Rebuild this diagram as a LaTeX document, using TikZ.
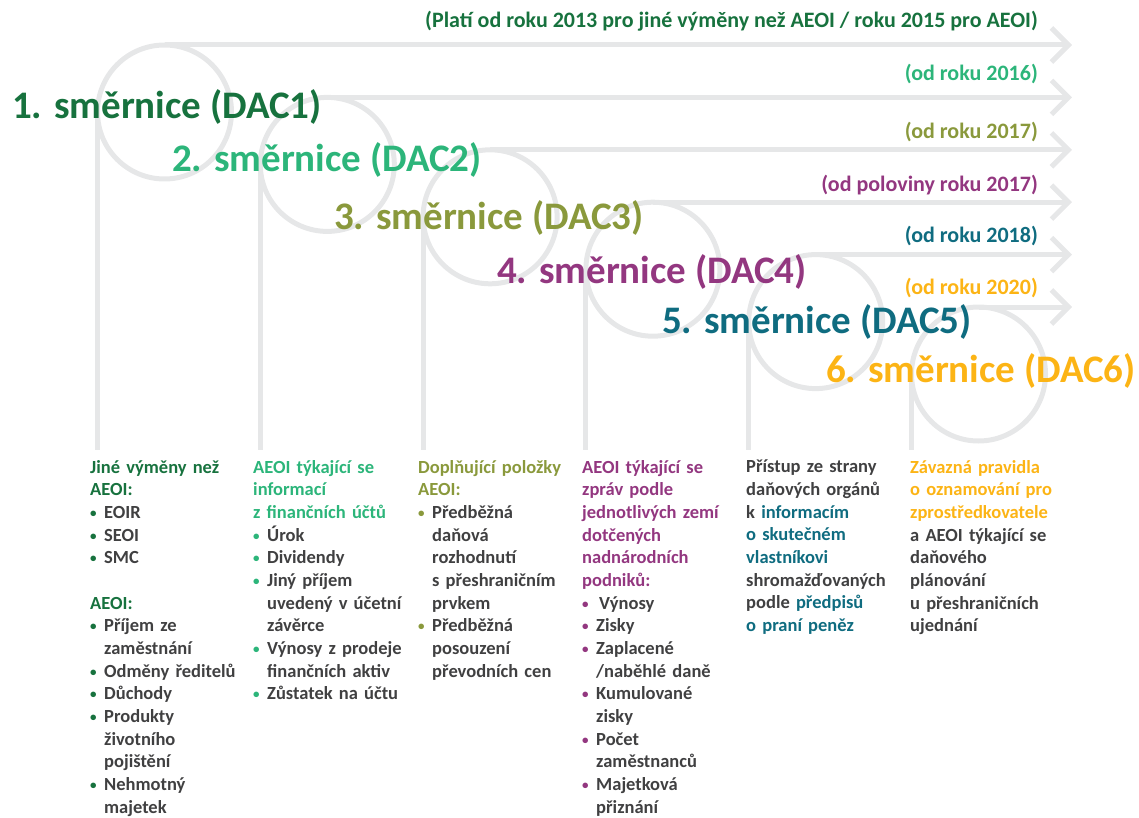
\documentclass[tikz,border=0pt]{standalone}
\usepackage{fontspec}
\setmainfont{Carlito}
\usetikzlibrary{arrows.meta}

\definecolor{dacone}{RGB}{23,114,62}
\definecolor{dactwo}{RGB}{44,181,122}
\definecolor{dacthree}{RGB}{138,153,60}
\definecolor{dacfour}{RGB}{147,55,128}
\definecolor{dacfive}{RGB}{15,108,128}
\definecolor{dacsix}{RGB}{252,180,21}
\definecolor{guidegrey}{RGB}{230,231,232}
\definecolor{bodytext}{RGB}{64,64,65}

\newcommand{\bul}[1]{\makebox[14pt][l]{\textcolor{#1}{\raisebox{1pt}{\fontsize{13}{13}\selectfont\textbullet}}}}
\newcommand{\ind}{\hspace*{14pt}}

\tikzset{
  guide/.style={draw=guidegrey, line width=5pt},
  guidearrow/.style={guide, -{Straight Barb[length=17pt,width=34pt]}},
  dactitle/.style={anchor=west, inner sep=0pt, font=\fontsize{39}{44}\selectfont\bfseries},
  since/.style={anchor=east, inner sep=0pt, font=\fontsize{22}{24}\selectfont\bfseries},
  column/.style={anchor=north west, align=left, text width=170pt, inner sep=0pt,
    text=bodytext, font=\fontsize{18.5}{22.67}\selectfont\bfseries}
}

\begin{document}
\begin{tikzpicture}[x=1pt,y=-1pt]
\useasboundingbox (0,0) rectangle (1139,818);

% grey guides: foot line, circle, arrow
\foreach \i in {1,...,6}{
  \pgfmathsetmacro{\xx}{97.5+162.8*(\i-1)}
  \pgfmathsetmacro{\yy}{45+52.4*(\i-1)}
  \coordinate (foot\i) at (\xx,450);
  \coordinate (side\i) at (\xx,\yy+67);
  \coordinate (hub\i) at (\xx+67,\yy+67);
  \coordinate (top\i) at (\xx+67,\yy);
  \coordinate (tip\i) at (1072,\yy);
  \draw[guide] (foot\i) -- (side\i);
  \draw[guide] (hub\i) circle[radius=67pt];
  \draw[guidearrow] (top\i) -- (tip\i);
}

% titles
\node[dactitle, text=dacone]   (dac1) at (12,107)  {1. směrnice (DAC1)};
\node[dactitle, text=dactwo]   (dac2) at (172,160) {2. směrnice (DAC2)};
\node[dactitle, text=dacthree] (dac3) at (334,218) {3. směrnice (DAC3)};
\node[dactitle, text=dacfour]  (dac4) at (497,272) {4. směrnice (DAC4)};
\node[dactitle, text=dacfive]  (dac5) at (662,322) {5. směrnice (DAC5)};
\node[dactitle, text=dacsix]   (dac6) at (826,371) {6. směrnice (DAC6)};

% dates over the arrows
\node[since, text=dacone]   (from1) at (1038,21)  {(Platí od roku 2013 pro jiné výměny než AEOI / roku 2015 pro AEOI)};
\node[since, text=dactwo]   (from2) at (1038,74)  {(od roku 2016)};
\node[since, text=dacthree] (from3) at (1038,132) {(od roku 2017)};
\node[since, text=dacfour]  (from4) at (1038,185) {(od poloviny roku 2017)};
\node[since, text=dacfive]  (from5) at (1038,236) {(od roku 2018)};
\node[since, text=dacsix]   (from6) at (1038,288) {(od roku 2020)};

% contents
\node[column] (col1) at (90,460) {%
\textcolor{dacone}{Jiné výměny než}\\
\textcolor{dacone}{AEOI:}\\
\bul{dacone}EOIR\\
\bul{dacone}SEOI\\
\bul{dacone}SMC\\[22.67pt]
\textcolor{dacone}{AEOI:}\\
\bul{dacone}Příjem ze\\
\ind zaměstnání\\
\bul{dacone}Odměny ředitelů\\
\bul{dacone}Důchody\\
\bul{dacone}Produkty\\
\ind životního\\
\ind pojištění\\
\bul{dacone}Nehmotný\\
\ind majetek};

\node[column] (col2) at (253,460) {%
\textcolor{dactwo}{AEOI týkající se}\\
\textcolor{dactwo}{informací}\\
\textcolor{dactwo}{z finančních účtů}\\
\bul{dactwo}Úrok\\
\bul{dactwo}Dividendy\\
\bul{dactwo}Jiný příjem\\
\ind uvedený v účetní\\
\ind závěrce\\
\bul{dactwo}Výnosy z prodeje\\
\ind finančních aktiv\\
\bul{dactwo}Zůstatek na účtu};

\node[column] (col3) at (418,460) {%
\textcolor{dacthree}{Doplňující položky}\\
\textcolor{dacthree}{AEOI:}\\
\bul{dacthree}Předběžná\\
\ind daňová\\
\ind rozhodnutí\\
\ind s přeshraničním\\
\ind prvkem\\
\bul{dacthree}Předběžná\\
\ind posouzení\\
\ind převodních cen};

\node[column] (col4) at (582,460) {%
\textcolor{dacfour}{AEOI týkající se}\\
\textcolor{dacfour}{zpráv podle}\\
\textcolor{dacfour}{jednotlivých zemí}\\
\textcolor{dacfour}{dotčených}\\
\textcolor{dacfour}{nadnárodních}\\
\textcolor{dacfour}{podniků:}\\
\bul{dacfour}\hspace*{3pt}Výnosy\\
\bul{dacfour}Zisky\\
\bul{dacfour}Zaplacené\\
\ind /naběhlé daně\\
\bul{dacfour}Kumulované\\
\ind zisky\\
\bul{dacfour}Počet\\
\ind zaměstnanců\\
\bul{dacfour}Majetková\\
\ind přiznání};

\node[column] (col5) at (746,460) {%
Přístup ze strany\\
daňových orgánů\\
k \textcolor{dacfive}{informacím}\\
\textcolor{dacfive}{o skutečném}\\
\textcolor{dacfive}{vlastníkovi}\\
shromažďovaných\\
podle \textcolor{dacfive}{předpisů}\\
\textcolor{dacfive}{o praní peněz}};

\node[column] (col6) at (910,460) {%
\textcolor{dacsix}{Závazná pravidla}\\
\textcolor{dacsix}{o oznamování pro}\\
\textcolor{dacsix}{zprostředkovatele}\\
a AEOI týkající se\\
daňového\\
plánování\\
u přeshraničních\\
ujednání};

\end{tikzpicture}
\end{document}
